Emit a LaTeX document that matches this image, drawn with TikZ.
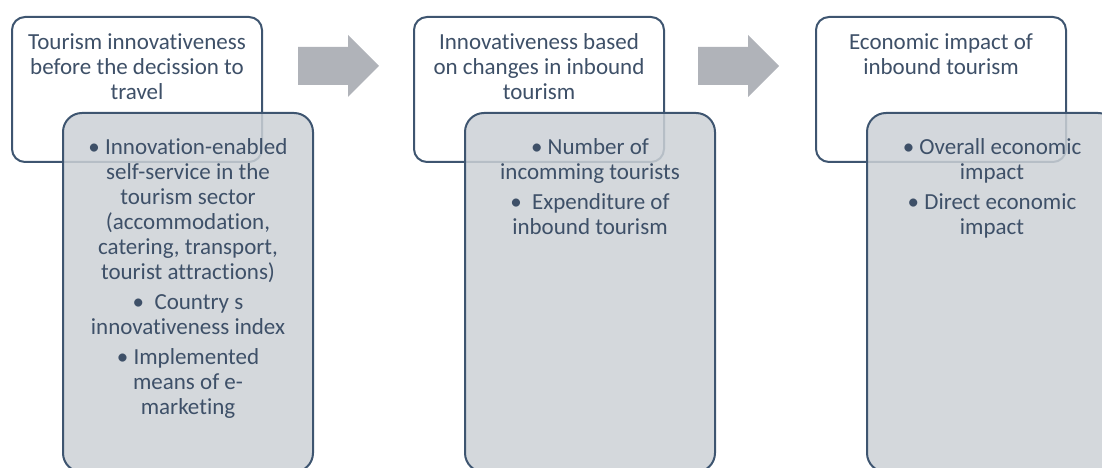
\documentclass[tikz,border=0pt]{standalone}
\usepackage{fontspec}
\setmainfont{Carlito}[Ligatures=NoCommon]
\usepackage{tikz}
\usepackage{xcolor}
\usetikzlibrary{positioning}

\definecolor{boxline}{HTML}{3E5570}
\definecolor{boxtext}{HTML}{3E5068}
\definecolor{listfill}{RGB}{204,209,214}
\definecolor{arrowgray}{HTML}{B0B3B9}

\begin{document}
\begin{tikzpicture}[x=1pt, y=1pt,
        headbox/.style={draw=boxline, line width=2pt, fill=white, rounded corners=13pt,
            minimum width=250pt, minimum height=145pt},
        listbox/.style={draw=boxline, line width=2pt, fill=listfill, fill opacity=.85,
            rounded corners=19pt, minimum width=250pt, minimum height=359pt},
        boxtext/.style={text=boxtext, inner sep=0pt, align=center,
            font=\fontsize{23}{25}\selectfont}]
        \useasboundingbox (0, 0) rectangle (1102, 468);
        \clip (0, 0) rectangle (1102, 468);

        \node[headbox] (head1) at (137, 378.5) {};
        \node[headbox, right=150pt of head1] (head2) {};
        \node[headbox, right=150pt of head2] (head3) {};

        \node[boxtext, below=17.5pt of head1.north] (title1) {Tourism innovativeness\\before the decission to\\travel};
        \node[boxtext, below=17.5pt of head2.north] (title2) {Innovativeness based\\on changes in inbound\\tourism};
        \node[boxtext, below=17.5pt of head3.north] (title3) {Economic impact of\\inbound tourism};

        \node[listbox, below right=96pt and 51pt of head1.north west] (list1) {};
        \node[listbox, below right=96pt and 51pt of head2.north west] (list2) {};
        \node[listbox, below right=96pt and 51pt of head3.north west] (list3) {};

        \node[boxtext, below=26pt of list1.north] (items1) {\textbullet{} Innovation-enabled\\self-service in the\\tourism sector\\(accommodation,\\catering, transport,\\tourist attractions)\\[5pt]
            \textbullet\ \ Country s\\innovativeness index\\[5pt]
            \textbullet{} Implemented\\means of e-\\marketing};
        \node[boxtext, below=26pt of list2.north] (items2) {\textbullet{} Number of\\incomming tourists\\[5pt]
            \textbullet\ \ Expenditure of\\inbound tourism};
        \node[boxtext, below=26pt of list3.north] (items3) {\textbullet{} Overall economic\\impact\\[5pt]
            \textbullet{} Direct economic\\impact};

        \fill[arrowgray] (298, 421) -- (348, 421) -- (348, 433) -- (379, 402)
            -- (348, 371) -- (348, 383) -- (298, 383) -- cycle;
        \fill[arrowgray] (698, 421) -- (748, 421) -- (748, 433) -- (779, 402)
            -- (748, 371) -- (748, 383) -- (698, 383) -- cycle;
    \end{tikzpicture}
\end{document}
